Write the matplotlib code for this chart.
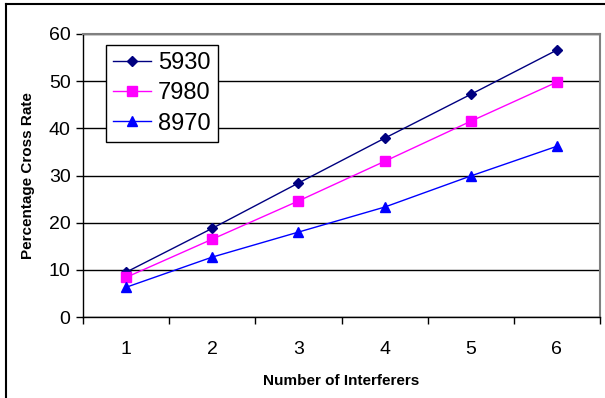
import numpy as np
import matplotlib

matplotlib.use("agg")
import matplotlib.pyplot as plt
from matplotlib.lines import Line2D

plt.rcParams["font.family"] = ["Liberation Sans", "DejaVu Sans"]

interferers = [1, 2, 3, 4, 5, 6]
rate_5930 = [9.5, 18.8, 28.4, 37.9, 47.2, 56.6]
rate_7980 = [8.4, 16.5, 24.6, 33.0, 41.5, 49.8]
rate_8970 = [6.3, 12.7, 18.0, 23.3, 29.9, 36.2]
series_names = ["5930", "7980", "8970"]

fig = plt.figure(figsize=(6.05, 3.98), dpi=100)
ax = fig.add_axes([83 / 605, 81 / 398, 517 / 605, 283 / 398])

styles = [
    (rate_5930, "#000080", "D", 5.5),
    (rate_7980, "#FF00FF", "s", 6.5),
    (rate_8970, "#0000FF", "^", 7),
]
for (vals, col, mk, ms), name in zip(styles, series_names):
    ax.plot(interferers, vals, color=col, marker=mk, markersize=ms,
            linewidth=1, label=name, zorder=3)

ax.set_xlim(0.5, 6.5)
ax.set_ylim(0, 60)
ax.set_yticks(np.arange(0, 61, 10))
ax.set_xticks(interferers)
ax.set_xticks(np.arange(0.5, 6.6, 1), minor=True)
ax.tick_params(axis="x", which="major", length=0, pad=17, labelsize=14)
ax.tick_params(axis="x", which="minor", length=5, width=1, direction="out")
ax.tick_params(axis="y", length=5, width=1, direction="out", labelsize=14, pad=4)
ax.yaxis.grid(True, color="black", linewidth=1)
ax.set_axisbelow(True)

for side in ("top", "right"):
    ax.spines[side].set_color("#808080")
    ax.spines[side].set_linewidth(1.5)
for side in ("left", "bottom"):
    ax.spines[side].set_color("black")
    ax.spines[side].set_linewidth(1)

ax.set_xlabel("Number of Interferers", fontsize=11, fontweight="bold", labelpad=12)
ax.set_ylabel("Percentage Cross Rate", fontsize=11, fontweight="bold", labelpad=10)

leg = ax.legend(loc="upper left", bbox_to_anchor=(106 / 605, 353 / 398),
                bbox_transform=fig.transFigure, fontsize=17, fancybox=False,
                framealpha=1, edgecolor="black", borderpad=0.3,
                handlelength=1.6, handletextpad=0.3, labelspacing=0.35,
                borderaxespad=0)
leg.get_frame().set_linewidth(1)

# outer chart frame, only top and left edges show
fig.add_artist(Line2D([6 / 605, 6 / 605], [0, 1 - 4 / 398], color="black",
                      linewidth=1.5, transform=fig.transFigure))
fig.add_artist(Line2D([6 / 605, 1], [1 - 4 / 398, 1 - 4 / 398], color="black",
                      linewidth=1.5, transform=fig.transFigure))

fig.savefig("out.png", dpi=100, facecolor="white")
